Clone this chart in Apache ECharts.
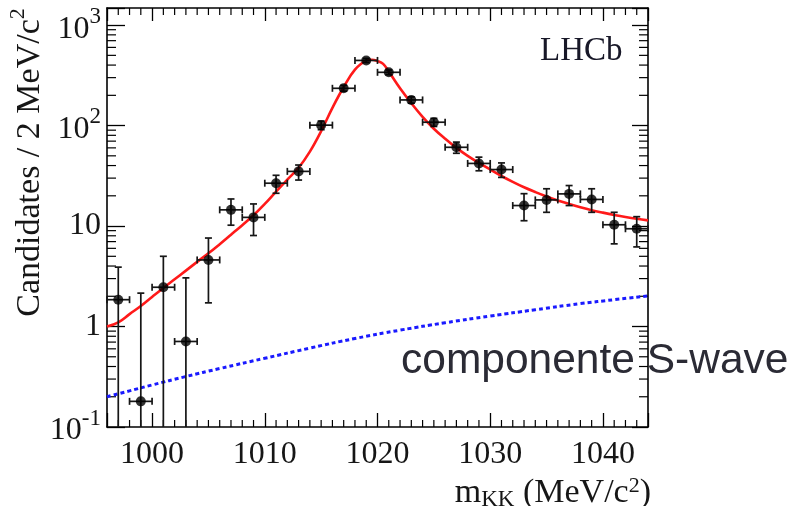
<!DOCTYPE html>
<html><head><meta charset="utf-8">
<script src="https://cdn.jsdelivr.net/npm/echarts@6/dist/echarts.min.js"></script>
<style>html,body{margin:0;padding:0;background:#fff}#c{width:799px;height:506px}</style>
</head><body><div id="c"></div>
<script>
// ---- data ----
const binCenters = [997, 999, 1001, 1003, 1005, 1007, 1009, 1011, 1013, 1015, 1017, 1019,
                    1021, 1023, 1025, 1027, 1029, 1031, 1033, 1035, 1037, 1039, 1041, 1043];
const counts    = [1.85, 0.18, 2.46, 0.71, 4.6, 14.5, 12.2, 26.7, 35, 101, 235, 445,
                   339, 180, 108, 60.8, 42, 36.5, 16, 18.2, 20.9, 18.4, 10.3, 9.4];
const errHigh   = [3.9, 2.15, 5.0, 3.05, 7.6, 18.6, 16.6, 32, 40.5, 111, 251, 466,
                   357, 193, 118, 68.5, 48.5, 42.5, 21, 23.5, 25.3, 23.5, 13.7, 12.4];
const errLow    = [0.001, 0.001, 0.001, 0.001, 1.72, 10.2, 8.05, 21.2, 28.7, 91, 220, 424,
                   321, 167, 98, 53, 35.5, 30.5, 11.3, 13.7, 16, 13.7, 6.65, 6.2];
const binHalfWidth = 1;

const fitMass = [996, 997, 998, 999, 1000, 1001, 1002, 1003, 1004, 1005, 1006, 1007, 1008, 1009,
                 1010, 1011, 1012, 1013, 1014, 1015, 1016, 1017, 1018, 1019, 1019.5, 1020, 1020.5,
                 1021, 1022, 1023, 1024, 1025, 1026, 1027, 1028, 1029, 1030, 1031, 1032, 1033,
                 1034, 1035, 1036, 1037, 1038, 1039, 1040, 1041, 1042, 1043, 1044];
const fitTotal = [1.0, 1.1, 1.33, 1.6, 1.97, 2.42, 2.95, 3.6, 4.4, 5.35, 6.6, 8.2, 10.2, 12.8,
                  16.6, 22, 29, 38, 55, 88, 150, 242, 360, 443, 452, 438, 411,
                  345, 235, 167, 122, 93, 74, 60, 50, 42.5, 36.5, 31.5, 27.5, 24.3,
                  21.8, 19.7, 18, 16.6, 15.4, 14.4, 13.6, 12.9, 12.3, 11.8, 11.4];

const swaveMass = [996, 998, 1000, 1003, 1006, 1010, 1014, 1018, 1022, 1026, 1030, 1034, 1038, 1041, 1044];
const swaveVal  = [0.200, 0.229, 0.262, 0.318, 0.382, 0.483, 0.61, 0.76, 0.92, 1.09, 1.27, 1.47, 1.69, 1.85, 2.02];

const xMin = 996, xMax = 1044;
const yMin = 0.1, yMax = 1480;
const yDecades = [0.1, 1, 10, 100, 1000];
const yDecadeLabels = ['{b|10}{s|-1}', '{c|1}', '{c|10}', '{b|10}{s|2}', '{b|10}{s|3}'];

// minor tick values (derived)
const xMinorTicks = [];
for (let v = xMin + 1; v < xMax; v++) if (v % 10 !== 0) xMinorTicks.push(v);
const yMinorTicks = [];
for (const d of [0.1, 1, 10, 100, 1000]) for (let k = 2; k <= 9; k++) { const v = k * d; if (v < yMax) yMinorTicks.push(v); }

const serif = '"Liberation Serif", "Times New Roman", serif';
const ink = '#161616';

const points = binCenters.map((x, i) => [x, counts[i]]);
const errData = binCenters.map((x, i) => [x, counts[i], errLow[i], errHigh[i]]);

function renderErr(params, api) {
  const x = api.value(0), y = api.value(1), lo = api.value(2), hi = api.value(3);
  const cs = params.coordSys;
  const bottom = cs.y + cs.height;
  const pL = api.coord([x - binHalfWidth, y]);
  const pR = api.coord([x + binHalfWidth, y]);
  const pT = api.coord([x, hi]);
  const pB = api.coord([x, lo]);
  const yb = Math.min(pB[1], bottom);
  const st = { stroke: ink, lineWidth: 1.7 };
  const c = 3.5;
  const ch = [
    { type: 'line', shape: { x1: pL[0], y1: pL[1], x2: pR[0], y2: pR[1] }, style: st },
    { type: 'line', shape: { x1: pT[0], y1: pT[1], x2: pT[0], y2: yb }, style: st },
    { type: 'line', shape: { x1: pL[0], y1: pL[1] - c, x2: pL[0], y2: pL[1] + c }, style: st },
    { type: 'line', shape: { x1: pR[0], y1: pR[1] - c, x2: pR[0], y2: pR[1] + c }, style: st },
    { type: 'line', shape: { x1: pT[0] - c, y1: pT[1], x2: pT[0] + c, y2: pT[1] }, style: st }
  ];
  if (pB[1] < bottom) ch.push({ type: 'line', shape: { x1: pB[0] - c, y1: pB[1], x2: pB[0] + c, y2: pB[1] }, style: st });
  return { type: 'group', children: ch };
}

function renderMinor(params, api) {
  const cs = params.coordSys;
  const x0 = cs.x, x1 = cs.x + cs.width, y0 = cs.y, y1 = cs.y + cs.height;
  const st = { stroke: '#000', lineWidth: 1.2 };
  const ch = [];
  for (const v of xMinorTicks) {
    const px = api.coord([v, 1])[0];
    ch.push({ type: 'line', shape: { x1: px, y1: y1, x2: px, y2: y1 - 7 }, style: st });
    ch.push({ type: 'line', shape: { x1: px, y1: y0, x2: px, y2: y0 + 7 }, style: st });
  }
  for (const v of yMinorTicks) {
    const py = api.coord([xMin, v])[1];
    ch.push({ type: 'line', shape: { x1: x0, y1: py, x2: x0 + 9, y2: py }, style: st });
    ch.push({ type: 'line', shape: { x1: x1, y1: py, x2: x1 - 9, y2: py }, style: st });
  }
  return { type: 'group', children: ch };
}

const chart = echarts.init(document.getElementById('c'));
const axisLine = { show: true, onZero: false, lineStyle: { color: '#000', width: 1.6 } };
const richY = {
  b: { fontFamily: serif, fontSize: 32, color: ink, verticalAlign: 'bottom', lineHeight: 40 },
  s: { fontFamily: serif, fontSize: 23, color: ink, verticalAlign: 'top', lineHeight: 22 },
  c: { fontFamily: serif, fontSize: 32, color: ink, lineHeight: 32 }
};
chart.setOption({
  animation: false,
  backgroundColor: '#fff',
  grid: { left: 107, right: 151, top: 8, bottom: 79, containLabel: false, outerBoundsMode: 'none' },
  xAxis: [{
    type: 'value', min: xMin, max: xMax,
    axisLine,
    axisTick: { show: true, inside: true, length: 14, lineStyle: { color: '#000', width: 1.3 } },
    splitLine: { show: false },
    axisLabel: {
      margin: 12, fontFamily: serif, fontSize: 32, color: ink,
      formatter: v => (v % 10 === 0 ? String(v) : '')
    },
    name: '{m|m}{k|KK}{m| (MeV/c}{s|2}{m|)}',
    nameLocation: 'end', nameGap: 3, nameMoveOverlap: false,
    nameTextStyle: {
      align: 'right', verticalAlign: 'top', padding: [48, 0, 0, 0],
      rich: {
        m: { fontFamily: serif, fontSize: 34, color: ink, verticalAlign: 'middle', lineHeight: 36 },
        k: { fontFamily: serif, fontSize: 23, color: ink, verticalAlign: 'bottom', lineHeight: 20 },
        s: { fontFamily: serif, fontSize: 22, color: ink, verticalAlign: 'top', lineHeight: 20 }
      }
    }
  }, {
    type: 'value', min: xMin, max: xMax, position: 'top',
    axisLine,
    axisTick: { show: true, inside: true, length: 13, lineStyle: { color: '#000', width: 1.3 } },
    axisLabel: { show: false }, splitLine: { show: false }
  }],
  yAxis: [{
    type: 'log', logBase: 10, min: yMin, max: yMax,
    axisLine,
    axisTick: { show: true, inside: true, length: 18, lineStyle: { color: '#000', width: 1.3 } },
    splitLine: { show: false },
    axisLabel: {
      margin: 6, align: 'right',
      formatter: v => { const i = yDecades.findIndex(d => Math.abs(Math.log10(v) - Math.log10(d)) < 1e-6); return i >= 0 ? yDecadeLabels[i] : ''; },
      rich: richY
    },
    name: '{t|Candidates / 2 MeV/c}{s|2}',
    nameLocation: 'middle', nameRotate: 90, nameGap: 60, nameMoveOverlap: false,
    nameTextStyle: {
      padding: [0, 0, 0, 110],
      rich: {
        t: { fontFamily: serif, fontSize: 34, color: ink, verticalAlign: 'bottom', lineHeight: 40 },
        s: { fontFamily: serif, fontSize: 22, color: ink, verticalAlign: 'top', lineHeight: 22 }
      }
    }
  }, {
    type: 'log', logBase: 10, min: yMin, max: yMax, position: 'right',
    axisLine,
    axisTick: { show: true, inside: true, length: 16, lineStyle: { color: '#000', width: 1.3 } },
    axisLabel: { show: false }, splitLine: { show: false }
  }],
  series: [
    {
      type: 'custom', name: 'minor ticks', silent: true, xAxisIndex: 0, yAxisIndex: 0,
      data: [[xMin, 1]], renderItem: renderMinor, z: 1
    },
    {
      type: 'line', name: 'S-wave', data: swaveMass.map((x, i) => [x, swaveVal[i]]),
      smooth: true, showSymbol: false, symbol: 'none',
      lineStyle: { color: '#1a1aff', width: 3, type: [4, 3] }, z: 2
    },
    {
      type: 'line', name: 'fit', data: fitMass.map((x, i) => [x, fitTotal[i]]),
      smooth: 0.4, showSymbol: false, symbol: 'none',
      lineStyle: { color: '#ff1a1a', width: 2.6 }, z: 3
    },
    {
      type: 'custom', name: 'errors', data: errData, renderItem: renderErr,
      encode: { x: 0, y: 1 }, z: 4, silent: true
    },
    {
      type: 'scatter', name: 'data', data: points, symbol: 'circle', symbolSize: 10,
      itemStyle: { color: '#000' }, z: 5
    }
  ],
  graphic: [
    { type: 'text', left: 540, top: 35, z: 10,
      style: { text: 'LHCb', font: '33px "Liberation Serif"', fill: '#181828' } },
    { type: 'text', left: 401, top: 340, z: 10,
      style: { text: 'componente S-wave', font: '42.5px "Liberation Sans", Arial, sans-serif', fill: '#2b2b35' } }
  ]
});
</script>
</body></html>
